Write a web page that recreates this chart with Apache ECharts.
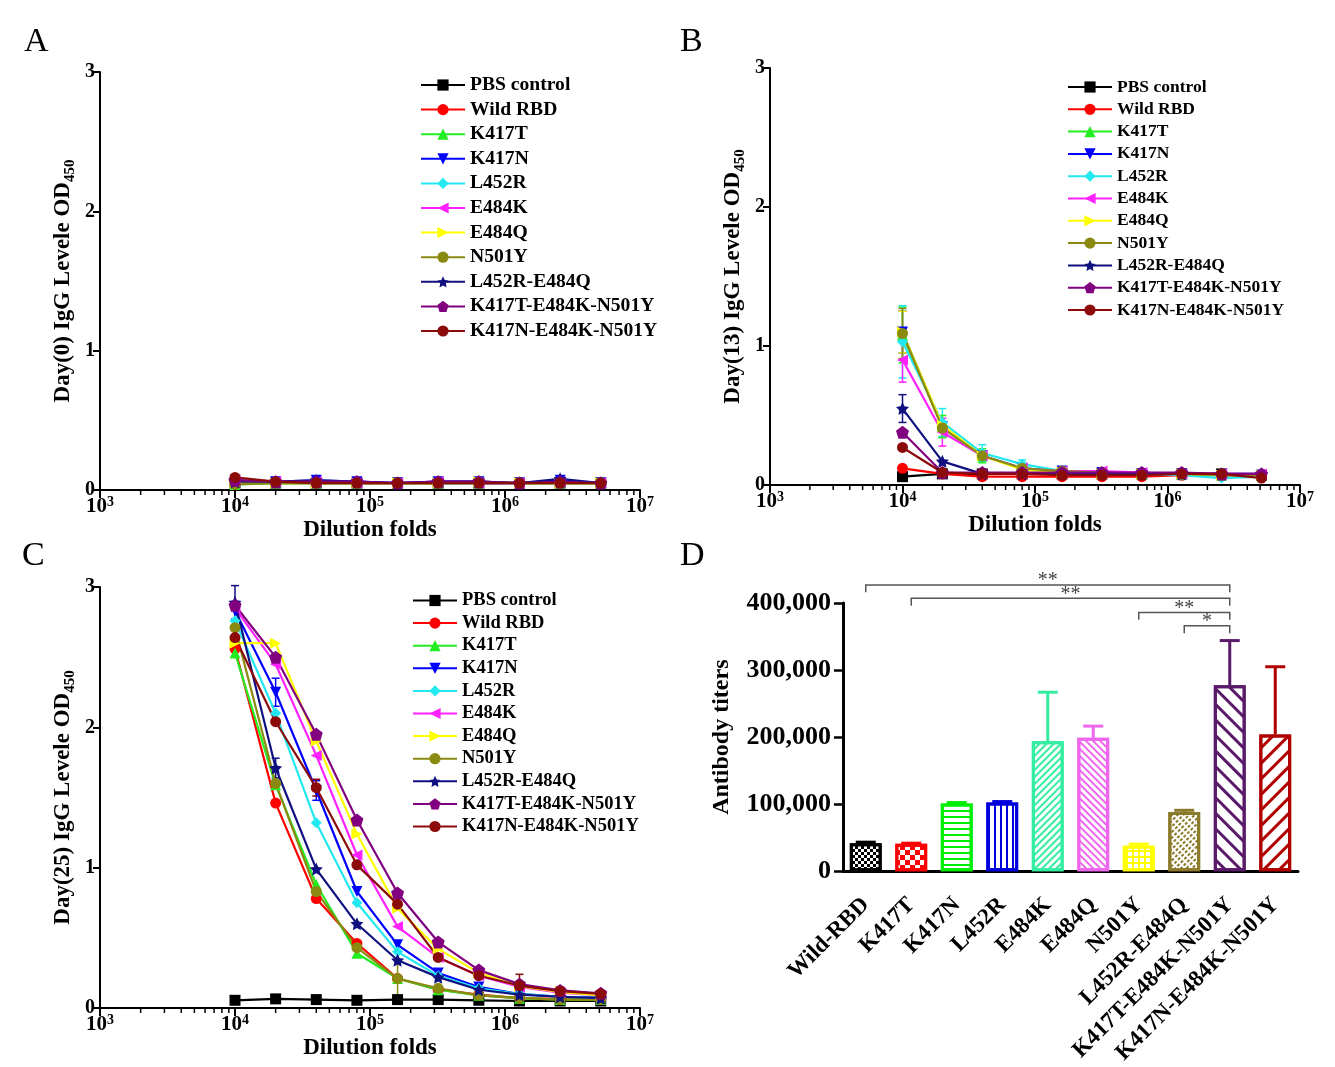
<!DOCTYPE html>
<html>
<head>
<meta charset="utf-8">
<script src="https://cdn.jsdelivr.net/npm/echarts@6/dist/echarts.min.js"></script>
<style>
html,body{margin:0;padding:0;background:#fff}
#chart{width:1335px;height:1067px}
</style>
</head>
<body>
<div id="chart"></div>
<script>
// dilution folds (x axis of A, B, C)
const dilutions = [10000, 20000, 40000, 80000, 160000, 320000, 640000, 1280000, 2560000, 5120000]

const groupNames = ['PBS control', 'Wild RBD', 'K417T', 'K417N', 'L452R', 'E484K', 'E484Q', 'N501Y', 'L452R-E484Q', 'K417T-E484K-N501Y', 'K417N-E484K-N501Y']

// OD450, one row per group, same order as groupNames
const day0Values = [
    [0.05, 0.05, 0.05, 0.05, 0.05, 0.05, 0.05, 0.05, 0.05, 0.05],
    [0.06, 0.06, 0.05, 0.05, 0.05, 0.05, 0.05, 0.05, 0.05, 0.05],
    [0.04, 0.05, 0.05, 0.05, 0.05, 0.05, 0.05, 0.05, 0.05, 0.05],
    [0.07, 0.06, 0.07, 0.06, 0.05, 0.06, 0.06, 0.05, 0.07, 0.05],
    [0.06, 0.06, 0.05, 0.05, 0.05, 0.05, 0.05, 0.05, 0.05, 0.05],
    [0.07, 0.06, 0.06, 0.05, 0.05, 0.06, 0.05, 0.05, 0.06, 0.05],
    [0.05, 0.05, 0.05, 0.05, 0.05, 0.05, 0.06, 0.05, 0.05, 0.05],
    [0.04, 0.05, 0.05, 0.05, 0.05, 0.05, 0.06, 0.05, 0.05, 0.05],
    [0.06, 0.06, 0.07, 0.06, 0.05, 0.06, 0.06, 0.05, 0.08, 0.05],
    [0.07, 0.06, 0.06, 0.06, 0.05, 0.06, 0.06, 0.05, 0.06, 0.05],
    [0.09, 0.06, 0.05, 0.05, 0.05, 0.05, 0.05, 0.05, 0.05, 0.05]
]
const day13Values = [
    [0.06, 0.08, 0.08, 0.08, 0.08, 0.08, 0.08, 0.08, 0.08, 0.07],
    [0.12, 0.08, 0.06, 0.06, 0.06, 0.06, 0.06, 0.07, 0.07, 0.06],
    [1.08, 0.42, 0.21, 0.12, 0.10, 0.09, 0.08, 0.08, 0.07, 0.07],
    [1.10, 0.42, 0.21, 0.12, 0.10, 0.09, 0.08, 0.08, 0.07, 0.07],
    [1.03, 0.45, 0.23, 0.15, 0.10, 0.09, 0.08, 0.07, 0.05, 0.06],
    [0.90, 0.38, 0.21, 0.12, 0.10, 0.10, 0.09, 0.08, 0.08, 0.08],
    [1.10, 0.43, 0.21, 0.11, 0.09, 0.08, 0.08, 0.08, 0.07, 0.07],
    [1.09, 0.41, 0.21, 0.12, 0.10, 0.09, 0.08, 0.08, 0.07, 0.07],
    [0.55, 0.17, 0.08, 0.08, 0.08, 0.08, 0.08, 0.08, 0.08, 0.08],
    [0.38, 0.09, 0.09, 0.09, 0.09, 0.09, 0.09, 0.09, 0.08, 0.08],
    [0.27, 0.09, 0.08, 0.08, 0.07, 0.07, 0.07, 0.08, 0.08, 0.05]
]
const day25Values = [
    [0.055, 0.065, 0.06, 0.055, 0.06, 0.06, 0.055, 0.05, 0.05, 0.05],
    [2.56, 1.46, 0.78, 0.46, 0.21, 0.13, 0.095, 0.07, 0.065, 0.06],
    [2.53, 1.59, 0.88, 0.39, 0.21, 0.13, 0.09, 0.07, 0.06, 0.06],
    [2.83, 2.25, 1.55, 0.83, 0.45, 0.25, 0.15, 0.10, 0.08, 0.075],
    [2.76, 2.10, 1.32, 0.75, 0.40, 0.23, 0.14, 0.10, 0.08, 0.07],
    [2.85, 2.45, 1.80, 1.09, 0.58, 0.36, 0.23, 0.15, 0.11, 0.09],
    [2.60, 2.60, 1.90, 1.24, 0.71, 0.42, 0.25, 0.155, 0.115, 0.09],
    [2.71, 1.60, 0.83, 0.43, 0.21, 0.14, 0.09, 0.07, 0.06, 0.06],
    [2.89, 1.71, 0.99, 0.60, 0.34, 0.22, 0.13, 0.095, 0.08, 0.07],
    [2.87, 2.50, 1.95, 1.34, 0.82, 0.47, 0.27, 0.17, 0.125, 0.105],
    [2.64, 2.04, 1.57, 1.02, 0.74, 0.36, 0.23, 0.16, 0.12, 0.10]
]
// visible error bars: [group, dilution index, +/- error]
const day13Errors = [[2, 0, 0.2], [3, 0, 0.15], [4, 0, 0.26], [5, 0, 0.16], [6, 0, 0.15], [7, 0, 0.18], [8, 0, 0.1],
    [4, 1, 0.1], [5, 1, 0.1], [2, 1, 0.08], [4, 2, 0.06], [2, 2, 0.05], [4, 3, 0.03], [3, 9, 0.03]]
const day25Errors = [[8, 0, 0.12], [3, 0, 0.06], [3, 1, 0.1], [8, 1, 0.07], [3, 2, 0.07], [10, 2, 0.06],
    [7, 4, 0.13], [10, 7, 0.08], [10, 8, 0.03]]

// panel D
const titerCategories = ['Wild-RBD', 'K417T', 'K417N', 'L452R', 'E484K', 'E484Q', 'N501Y', 'L452R-E484Q', 'K417T-E484K-N501Y', 'K417N-E484K-N501Y']
const titerValues = [42000, 41000, 101000, 102500, 194000, 199000, 38000, 88500, 277500, 204000]
const titerErrors = [1500, 1000, 1500, 1500, 73000, 17500, 2500, 2500, 66500, 101000]
// [from bar, to bar, height]
const bracketPairs = [[0, 8, 427000], [1, 8, 407000], [6, 8, 386000], [7, 8, 366000]]
const bracketStars = ['**', '**', '**', '*']

const lineColors = ['#000000', '#ff0000', '#22ee22', '#0000ff', '#22e8f0', '#ff22ff', '#ffff00', '#8a8a10', '#101080', '#800080', '#8b0a0a']
const starPath = 'path://M0,-10L2.9,-4L9.5,-3.1L4.8,1.5L5.9,8.1L0,5L-5.9,8.1L-4.8,1.5L-9.5,-3.1L-2.9,-4Z'
const pentaPath = 'path://M0,-10L9.5,-3.1L5.9,8.1L-5.9,8.1L-9.5,-3.1Z'
const lineSymbols = ['rect', 'circle', 'triangle', 'triangle', 'diamond', 'triangle', 'triangle', 'circle', starPath, pentaPath, 'circle']
const symbolRotates = [0, 0, 0, 180, 0, 90, -90, 0, 0, 0, 0]

const barColors = ['#000000', '#ff0000', '#00ee00', '#0000dd', '#33eea0', '#ee66ee', '#ffff00', '#8b7a2a', '#5a1a6a', '#b00000']

// log minor ticks 2..9 x 10^n
const minorTickValues = []
;[1000, 10000, 100000, 1000000].forEach(d => {
    for (let k = 2; k <= 9; k++) minorTickValues.push(k * d)
})

const FONT = 'Liberation Serif'
const chart = echarts.init(document.getElementById('chart'))

const lineSeries = (values, idx) => values.map((row, i) => ({
    name: groupNames[i],
    type: 'line',
    xAxisIndex: idx,
    yAxisIndex: idx,
    data: row.map((v, j) => [dilutions[j], v]),
    symbol: lineSymbols[i],
    symbolSize: i === 8 || i === 9 ? 13 : 11,
    symbolRotate: symbolRotates[i],
    lineStyle: { width: 2.2, color: lineColors[i] },
    itemStyle: { color: lineColors[i] },
    emphasis: { disabled: true },
    z: 3
}))

const errorSeries = (values, errors, idx) => ({
    type: 'custom', xAxisIndex: idx, yAxisIndex: idx, z: 2,
    data: errors.map(e => [dilutions[e[1]], values[e[0]][e[1]], e[2], e[0]]),
    encode: { x: 0, y: 1 },
    renderItem: (params, api) => {
        const x = api.value(0), y = api.value(1), e = api.value(2)
        const c = lineColors[api.value(3)]
        const top = api.coord([x, y + e]), bot = api.coord([x, Math.max(y - e, 0.001)])
        return {
            type: 'group', children: [
                { type: 'line', shape: { x1: top[0], y1: top[1], x2: bot[0], y2: bot[1] }, style: { stroke: c, lineWidth: 1.5 } },
                { type: 'line', shape: { x1: top[0] - 4, y1: top[1], x2: top[0] + 4, y2: top[1] }, style: { stroke: c, lineWidth: 1.5 } },
                { type: 'line', shape: { x1: bot[0] - 4, y1: bot[1], x2: bot[0] + 4, y2: bot[1] }, style: { stroke: c, lineWidth: 1.5 } }
            ]
        }
    }
})

const minorTickSeries = (idx) => ({
    type: 'custom', xAxisIndex: idx, yAxisIndex: idx, clip: false, silent: true,
    data: minorTickValues.map(v => [v, 0]),
    encode: { x: 0, y: 1 },
    renderItem: (params, api) => {
        const p = api.coord([api.value(0), 0])
        return { type: 'line', shape: { x1: p[0], y1: p[1], x2: p[0], y2: p[1] + 5 }, style: { stroke: '#000', lineWidth: 1.5 } }
    }
})

const logAxis = (idx) => ({
    type: 'log', logBase: 10, min: 1000, max: 10000000, gridIndex: idx,
    axisLine: { lineStyle: { color: '#000', width: 2 } },
    axisTick: { length: 8, lineStyle: { color: '#000', width: 2 } },
    splitLine: { show: false },
    axisLabel: {
        margin: 5,
        formatter: v => '{b|10}{s|' + Math.round(Math.log10(v)) + '}',
        rich: {
            b: { fontFamily: FONT, fontWeight: 'bold', fontSize: 21, color: '#000', lineHeight: 24 },
            s: { fontFamily: FONT, fontWeight: 'bold', fontSize: 14, color: '#000', verticalAlign: 'top', lineHeight: 24 }
        }
    },
    name: 'Dilution folds', nameLocation: 'middle', nameGap: 29,
    nameTextStyle: { fontFamily: FONT, fontWeight: 'bold', fontSize: 23, color: '#000' }
})

const odAxis = (idx, day) => ({
    type: 'value', min: 0, max: 3, interval: 1, gridIndex: idx,
    axisLine: { show: true, lineStyle: { color: '#000', width: 2 } },
    axisTick: { show: true, length: 7, lineStyle: { color: '#000', width: 2 } },
    splitLine: { show: false },
    axisLabel: { fontFamily: FONT, fontWeight: 'bold', fontSize: 20, color: '#000', margin: 5 },
    name: '{b|Day(' + day + ') IgG Levele OD}{s|450}', nameLocation: 'middle', nameGap: 22,
    nameTextStyle: {
        rich: {
            b: { fontFamily: FONT, fontWeight: 'bold', fontSize: 23, color: '#000', lineHeight: 30 },
            s: { fontFamily: FONT, fontWeight: 'bold', fontSize: 15, color: '#000', verticalAlign: 'bottom', lineHeight: 30 }
        }
    }
})

const legendAt = (left, top, gap, size) => ({
    left, top, padding: 0, orient: 'vertical', itemWidth: 44, itemHeight: 14, itemGap: gap,
    selectedMode: false, data: groupNames,
    textStyle: { fontFamily: FONT, fontWeight: 'bold', fontSize: size, color: '#000' }
})

const decals = [
    { symbol: 'rect', symbolSize: 1, dashArrayX: [[2.5, 2.5], [0, 2.5, 2.5, 0]], dashArrayY: [2.5, 0], color: '#000' },
    { symbol: 'rect', symbolSize: 1, dashArrayX: [[5, 5], [0, 5, 5, 0]], dashArrayY: [5, 0], color: '#ff0000' },
    { symbol: 'rect', symbolSize: 1, dashArrayX: [1, 0], dashArrayY: [2, 4], rotation: 0, color: '#00ee00' },
    { symbol: 'rect', symbolSize: 1, dashArrayX: [1, 0], dashArrayY: [2, 4], rotation: Math.PI / 2, color: '#0000dd' },
    { symbol: 'rect', symbolSize: 1, dashArrayX: [1, 0], dashArrayY: [1.5, 2.5], rotation: -Math.PI / 4, color: '#33eea0' },
    { symbol: 'rect', symbolSize: 1, dashArrayX: [1, 0], dashArrayY: [1.5, 2.5], rotation: Math.PI / 4, color: '#ee66ee' },
    { symbol: 'rect', symbolSize: 1, dashArrayX: [4, 2], dashArrayY: [4, 2], color: '#ffffff' },
    { symbol: 'rect', symbolSize: 1, dashArrayX: [3, 2], dashArrayY: [2, 2], rotation: -Math.PI / 4, color: '#8b7a2a' },
    { symbol: 'rect', symbolSize: 1, dashArrayX: [1, 0], dashArrayY: [3, 8], rotation: Math.PI / 4, color: '#5a1a6a' },
    { symbol: 'rect', symbolSize: 1, dashArrayX: [1, 0], dashArrayY: [3, 8], rotation: -Math.PI / 4, color: '#b00000' }
]

const panelLetter = (text, left, top) => ({
    type: 'text', left, top,
    style: { text, fontFamily: FONT, fontSize: 34, fill: '#000' }
})

const option = {
    backgroundColor: '#fff',
    animation: false,
    textStyle: { fontFamily: FONT },
    graphic: [panelLetter('A', 24, 25), panelLetter('B', 680, 25), panelLetter('C', 22, 539), panelLetter('D', 680, 539)],
    legend: [legendAt(420, 75, 4.6, 19.6), legendAt(1067, 78, 4.3, 17.5), legendAt(412, 591, 3.6, 18.5)],
    grid: [
        { left: 100, top: 72, width: 540, height: 418 },
        { left: 770, top: 68, width: 530, height: 417 },
        { left: 100, top: 587, width: 540, height: 421 },
        { left: 843, top: 603, width: 455, height: 270 }
    ],
    xAxis: [logAxis(0), logAxis(1), logAxis(2), {
        type: 'category', gridIndex: 3, data: titerCategories,
        axisLine: { lineStyle: { color: '#000', width: 3 } },
        axisTick: { alignWithLabel: true, length: 9, lineStyle: { color: '#000', width: 2.5 } },
        axisLabel: { interval: 0, rotate: 45, margin: 30, fontFamily: FONT, fontWeight: 'bold', fontSize: 23, color: '#000' }
    }],
    yAxis: [odAxis(0, 0), odAxis(1, 13), odAxis(2, 25), {
        type: 'value', gridIndex: 3, min: 0, max: 400000, interval: 100000,
        axisLine: { show: true, lineStyle: { color: '#000', width: 3 } },
        axisTick: { show: true, length: 9, lineStyle: { color: '#000', width: 2.5 } },
        splitLine: { show: false },
        axisLabel: { fontFamily: FONT, fontWeight: 'bold', fontSize: 26, color: '#000', margin: 12, formatter: v => v.toLocaleString('en-US') },
        name: 'Antibody titers', nameLocation: 'middle', nameGap: 109,
        nameTextStyle: { fontFamily: FONT, fontWeight: 'bold', fontSize: 24, color: '#000' }
    }],
    series: [
        ...lineSeries(day0Values, 0),
        ...lineSeries(day13Values, 1),
        ...lineSeries(day25Values, 2),
        errorSeries(day13Values, day13Errors, 1),
        errorSeries(day25Values, day25Errors, 2),
        minorTickSeries(0), minorTickSeries(1), minorTickSeries(2),
        {
            type: 'bar', xAxisIndex: 3, yAxisIndex: 3, barWidth: '70%',
            data: titerValues.map((v, i) => ({
                value: v,
                itemStyle: { color: i === 6 ? '#ffff00' : '#ffffff', borderColor: barColors[i], borderWidth: 3, decal: decals[i] }
            }))
        },
        {
            type: 'custom', xAxisIndex: 3, yAxisIndex: 3,
            data: titerValues.map((v, i) => [i, v, titerErrors[i]]),
            encode: { x: 0, y: 1 },
            renderItem: (params, api) => {
                const p0 = api.coord([api.value(0), api.value(1)])
                const p1 = api.coord([api.value(0), api.value(1) + api.value(2)])
                const c = barColors[params.dataIndex]
                return {
                    type: 'group', children: [
                        { type: 'line', shape: { x1: p0[0], y1: p0[1], x2: p1[0], y2: p1[1] }, style: { stroke: c, lineWidth: 3 } },
                        { type: 'line', shape: { x1: p1[0] - 10, y1: p1[1], x2: p1[0] + 10, y2: p1[1] }, style: { stroke: c, lineWidth: 3 } }
                    ]
                }
            }
        },
        {
            type: 'custom', xAxisIndex: 3, yAxisIndex: 3, clip: false,
            data: bracketPairs,
            encode: { x: [0, 1], y: 2 },
            renderItem: (params, api) => {
                const a = api.coord([api.value(0), api.value(2)])
                const b = api.coord([api.value(1), api.value(2)])
                const d = api.size([0, 11000])[1]
                return {
                    type: 'group', children: [
                        { type: 'polyline', shape: { points: [[a[0], a[1] + d], a, b, [b[0], b[1] + d]] }, style: { stroke: '#555', lineWidth: 1.5, fill: null } },
                        { type: 'text', x: (a[0] + b[0]) / 2, y: a[1] + 6, style: { text: bracketStars[params.dataIndex], fontFamily: FONT, fontSize: 20, fill: '#444', align: 'center', verticalAlign: 'bottom' } }
                    ]
                }
            }
        }
    ]
}
chart.setOption(option)
</script>
</body>
</html>
